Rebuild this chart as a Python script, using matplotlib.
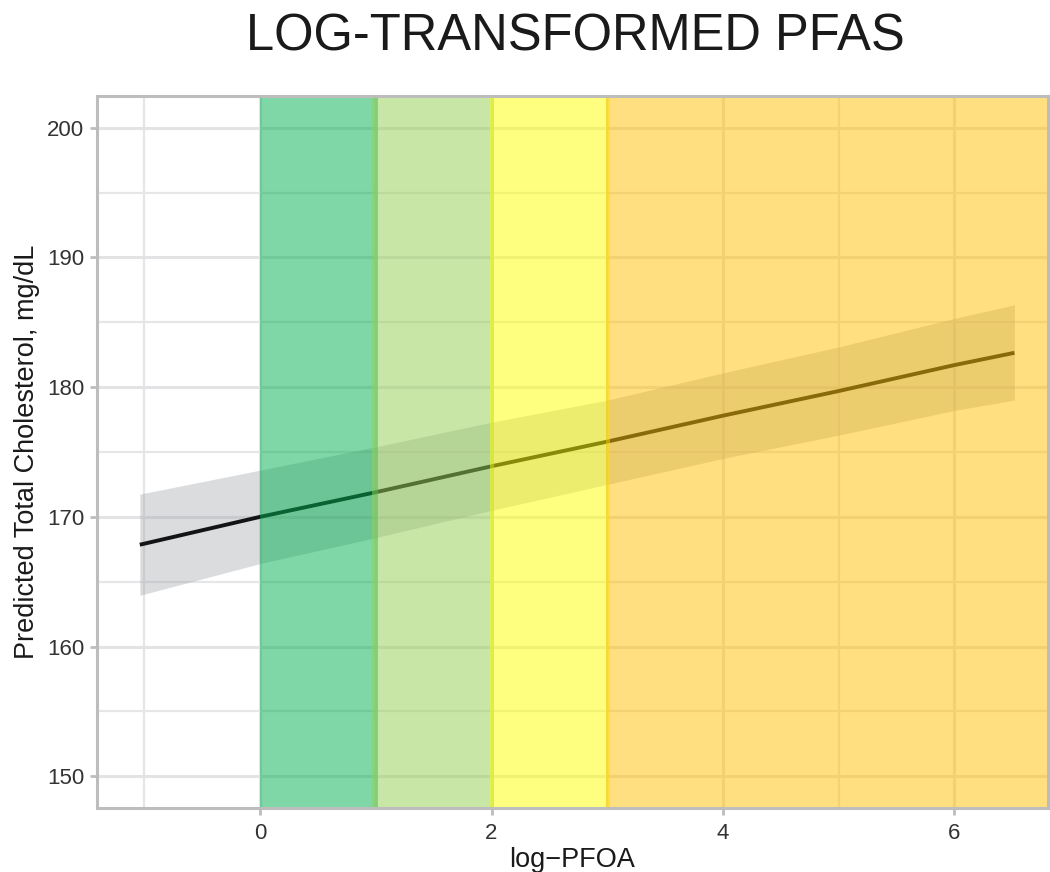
import matplotlib.pyplot as plt
import numpy as np

plt.rcParams['font.family'] = ['Liberation Sans', 'DejaVu Sans']

# predicted cholesterol from the log-PFOA model, with 95% band
log_pfoa = [-1.04, 0, 1, 2, 3, 4, 5, 6, 6.52]
fit = [167.85, 170.0, 171.9, 173.9, 175.8, 177.8, 179.7, 181.7, 182.65]
lower = [163.95, 166.4, 168.4, 170.5, 172.5, 174.5, 176.3, 178.2, 179.0]
upper = [171.75, 173.6, 175.4, 177.3, 179.0, 181.1, 183.1, 185.3, 186.35]

# exposure zones shaded over the fit (last zone runs to the edge)
zone_start = [0, 0.97, 1.99, 2.99]
zone_end = [1.02, 2.02, 3.02, None]
zone_colors = ['#00b050', '#92d050', '#ffff00', '#ffc000']

x_major = [0, 2, 4, 6]
x_minor = [-1, 1, 3, 5]
y_major = [150, 160, 170, 180, 190, 200]
y_minor = [155, 165, 175, 185, 195]

fig = plt.figure(figsize=(10.5, 8.72), dpi=100)
ax = fig.add_axes([97 / 1050, 1 - 808 / 872, 951 / 1050, 712 / 872])
ax.set_xlim(-1.41, 6.81)
ax.set_ylim(147.55, 202.45)

ax.fill_between(log_pfoa, lower, upper, color='#a0a3a8', alpha=0.38, lw=0, zorder=1)
ax.plot(log_pfoa, fit, color='#141414', lw=2.8, zorder=1.5, solid_capstyle='butt')

right = ax.get_xlim()[1]
for lo, hi, c in zip(zone_start, zone_end, zone_colors):
    ax.axvspan(lo, right if hi is None else hi, color=c, alpha=0.5, lw=0, zorder=2)

ax.set_xticks(x_major)
ax.set_xticks(x_minor, minor=True)
ax.set_yticks(y_major)
ax.set_yticks(y_minor, minor=True)
ax.set_axisbelow(True)
ax.grid(which='major', color='#e3e3e5', lw=2.2)
ax.grid(which='minor', color='#e6e6e8', lw=1.6)

for s in ax.spines.values():
    s.set_color('#bdbdbd')
    s.set_linewidth(2.2)
ax.tick_params(which='major', length=5, width=2, color='#bdbdbd',
               labelsize=16, labelcolor='#333333', pad=4)
ax.tick_params(which='minor', length=0)
ax.tick_params(axis='x', pad=6)

ax.set_xlabel('log\u2212PFOA', fontsize=19.5, color='#1a1a1a', labelpad=2)
ax.set_ylabel('Predicted Total Cholesterol, mg/dL', fontsize=19.5, color='#1a1a1a', labelpad=5)

fig.text(575 / 1050, 1 - 37 / 872, 'LOG-TRANSFORMED PFAS', ha='center', va='center',
         fontsize=36.5, color='#1a1a1a')

fig.savefig('out.png', dpi=100)
